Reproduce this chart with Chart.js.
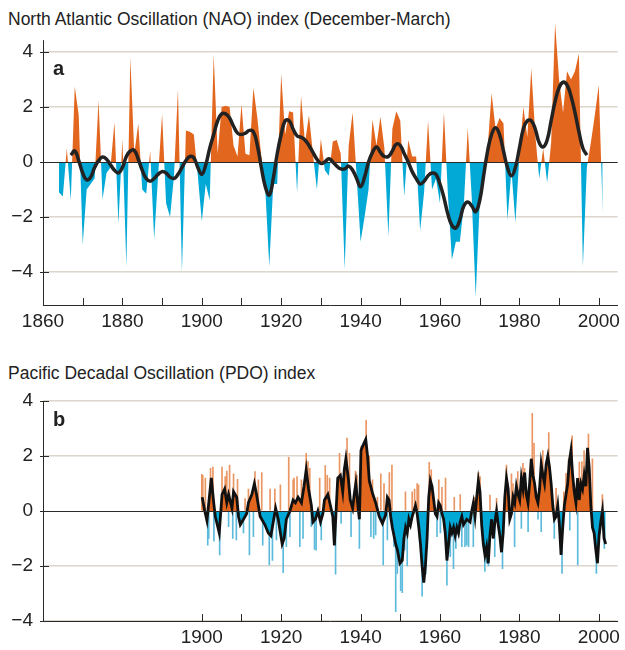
<!DOCTYPE html>
<html>
<head>
<meta charset="utf-8">
<script src="https://cdn.jsdelivr.net/npm/chart.js@4.4.1/dist/chart.umd.min.js"></script>
<style>
  body { margin: 0; background: #fff; width: 625px; height: 650px; position: relative; overflow: hidden;
         font-family: "Liberation Sans", Arial, sans-serif; color: #222; }
  .title { position: absolute; left: 8px; font-size: 17.5px; line-height: 1; white-space: nowrap; }
  .tag { position: absolute; font-size: 20px; font-weight: bold; line-height: 1; }
  canvas { position: absolute; left: 0; }
</style>
</head>
<body>
<div class="title" style="top:11px">North Atlantic Oscillation (NAO) index (December-March)</div>
<div class="title" style="top:365px">Pacific Decadal Oscillation (PDO) index</div>
<canvas id="nao" width="625" height="340" style="top:0"></canvas>
<canvas id="pdo" width="625" height="310" style="top:340px"></canvas>
<div class="tag" style="left:53px;top:58px">a</div>
<div class="tag" style="left:53px;top:409px">b</div>
<script>
// NAO winter index, one value per year from 1864
const naoFirstYear = 1864;
const naoValues = [
  -1.1, -1.25, 0.5, -1.4, 2.75, 1.7, -3.0, -1.0, -0.8, -0.6,
  2.25, -1.35, -0.4, -0.2, 1.45, -2.25, 0.85, -3.8, 3.8, 0.3,
  1.4, -1.0, -1.15, 0.4, -2.8, -0.5, 1.75, -1.5, -2.0, -0.5,
  2.65, -4.0, 1.15, 1.1, 1.0, -0.5, -2.15, -0.8, -1.4, 3.9,
  0.3, 2.0, 2.05, 2.0, 0.6, 0.2, 2.1, 0.3, 0.25, 2.7,
  1.6, 0.2, -1.0, -3.8, -0.8, -0.8, 3.2, 1.0, 1.85, 1.8,
  -1.1, 2.4, 0.7, 1.7, 0.3, -1.0, 0.85, -0.3, -0.5, 0.75,
  0.8, 0.3, -3.9, 0.6, 1.8, -0.5, -2.9, -2.0, -1.0, 1.55,
  0.6, 1.65, 0.5, -2.7, 1.2, 1.85, 1.5, -1.25, 0.8, 0.2,
  0.2, -2.5, -1.1, 1.5, -1.0, -0.6, -1.5, 1.8, -1.2, -3.55,
  -2.9, -2.9, -1.6, 1.25, -1.3, -4.9, -1.5, -0.8, 0.5, 2.5,
  1.2, 1.6, 1.4, -2.1, -0.3, -2.2, 0.2, 2.0, 0.9, 3.4,
  1.0, -0.6, 0.5, -0.75, 0.7, 5.05, 3.0, 1.8, 3.3, 3.0,
  3.3, 3.95, -3.8, -0.2, 0.7, 1.7, 2.8, -1.9
];
// low-pass curve, one value per year from 1867
const naoSmoothFirstYear = 1867;
const naoSmooth = [
  0.25, 0.4, 0.05, -0.4, -0.65, -0.55, -0.2, 0.05, 0.18, 0.1,
  -0.1, -0.3, -0.4, -0.2, 0.2, 0.4, 0.42, 0.1, -0.3, -0.6,
  -0.7, -0.6, -0.45, -0.35, -0.4, -0.55, -0.6, -0.45, -0.2, 0.05,
  0.2, 0.15, -0.2, -0.45, -0.1, 0.5, 1.0, 1.5, 1.75, 1.75,
  1.6, 1.3, 1.05, 1.0, 1.05, 1.15, 1.1, 0.6, -0.2, -0.9,
  -1.2, -0.6, 0.3, 1.0, 1.5, 1.5, 1.2, 0.95, 0.9, 0.8,
  0.6, 0.35, 0.1, -0.05, 0.0, 0.12, 0.0, -0.15, -0.25, -0.25,
  -0.15, -0.3, -0.6, -0.9, -0.55, 0.0, 0.35, 0.55, 0.35, 0.2,
  0.2, 0.4, 0.65, 0.6, 0.3, 0.0, -0.35, -0.6, -0.8, -0.7,
  -0.5, -0.4, -0.45, -0.8, -1.3, -1.9, -2.3, -2.4, -2.1, -1.6,
  -1.45, -1.6, -1.8, -1.4, -0.5, 0.4, 1.0, 1.25, 1.0, 0.4,
  -0.2, -0.5, -0.2, 0.5, 1.2, 1.5, 1.5, 1.2, 0.7, 0.55,
  0.8, 1.5, 2.2, 2.7, 2.9, 2.8, 2.4, 1.8, 1.1, 0.5,
  0.25
];

// PDO index: black curve
const pdoYears = [
  1900.1, 1900.75, 1901.3, 1902.4, 1903.0, 1903.4, 1904.4, 1905.1, 1905.75, 1906.3,
  1906.75, 1907.6, 1908.0, 1908.8, 1909.25, 1909.7, 1910.5, 1911.3, 1911.75, 1912.6,
  1913.25, 1913.8, 1914.25, 1914.7, 1915.9, 1916.75, 1917.4, 1918.0, 1918.6, 1919.25,
  1920.25, 1920.75, 1921.3, 1922.2, 1923.0, 1923.6, 1924.25, 1925.1, 1925.75, 1926.3,
  1926.9, 1927.6, 1928.0, 1928.6, 1929.25, 1929.9, 1930.5, 1930.9, 1931.75, 1932.4,
  1933.0, 1933.4, 1933.9, 1934.25, 1934.9, 1935.5, 1935.9, 1936.3, 1936.9, 1937.4,
  1938.0, 1938.4, 1938.8, 1939.25, 1939.7, 1940.1, 1940.5, 1941.3, 1941.75, 1942.2,
  1943.0, 1943.8, 1944.7, 1945.5, 1946.3, 1946.75, 1947.17, 1947.58, 1948.0, 1948.42,
  1948.83, 1949.25, 1949.92, 1950.5, 1950.92, 1951.33, 1951.75, 1952.17, 1952.58, 1953.0,
  1953.42, 1953.83, 1954.25, 1954.67, 1955.08, 1955.5, 1955.92, 1956.33, 1956.75, 1957.17,
  1957.58, 1958.0, 1958.42, 1958.83, 1959.25, 1959.67, 1960.08, 1960.5, 1960.92, 1961.33,
  1961.75, 1962.17, 1962.58, 1963.0, 1963.42, 1963.83, 1964.25, 1964.67, 1965.08, 1965.5,
  1965.92, 1966.75, 1967.58, 1968.0, 1968.42, 1968.83, 1969.25, 1969.67, 1970.08, 1970.5,
  1970.92, 1971.33, 1971.75, 1972.17, 1972.58, 1973.0, 1973.42, 1973.83, 1974.25, 1974.67,
  1975.08, 1975.5, 1975.92, 1976.33, 1976.75, 1977.17, 1977.58, 1978.0, 1978.42, 1978.83,
  1979.25, 1979.67, 1980.08, 1980.5, 1980.92, 1981.33, 1981.75, 1982.17, 1982.58, 1983.0,
  1983.42, 1983.83, 1984.25, 1984.67, 1985.08, 1985.5, 1985.92, 1986.33, 1986.75, 1987.17,
  1987.58, 1988.0, 1988.42, 1988.83, 1989.25, 1989.67, 1990.08, 1990.5, 1990.92, 1991.33,
  1991.75, 1992.17, 1992.58, 1993.0, 1993.42, 1993.83, 1994.25, 1994.67, 1995.08, 1995.5,
  1995.92, 1996.33, 1996.75, 1997.17, 1997.58, 1998.0, 1998.42, 1998.83, 1999.25, 1999.67,
  2000.08, 2000.5, 2000.92, 2001.33, 2001.75
];
const pdoValues = [
  0.5, 0.0, -0.35, 1.2, 0.3, -0.2, -0.8, 0.6, 0.8, 0.3,
  0.6, 0.1, 0.7, 0.5, -0.2, -0.5, -0.3, -0.1, 0.3, 0.6,
  1.0, 0.6, 0.2, -0.2, -0.5, -0.8, -0.9, -0.4, 0.1, -0.3,
  -1.2, -1.0, -0.3, 0.0, 0.4, 0.3, 0.5, 0.3, 0.9, 1.5,
  0.8, 0.2, -0.4, -0.3, 0.0, -0.4, -0.1, 0.4, 0.6, 0.2,
  -0.2, -1.25, 0.2, 1.2, 1.3, 0.7, 1.5, 1.9, 1.2, 0.4,
  0.1, 0.6, 1.0, 0.3, -0.3, 2.2, 2.35, 2.6, 2.0, 1.1,
  0.65, 0.3, -0.2, -0.45, -0.15, 0.5, 0.4, -0.2, -0.6, -0.9,
  -1.2, -1.4, -1.9, -1.8, -1.0, -0.6, -0.8, -0.3, -0.5, -0.2,
  0.0, 0.2, -0.1, -0.6, -1.2, -2.0, -2.6, -2.0, -1.0, 0.5,
  1.1, 0.9, 0.4, -0.1, -0.2, 0.3, 0.2, -0.1, -0.3, -0.8,
  -1.8, -1.2, -0.6, -0.8, -0.6, -0.9, -0.6, -0.8, -0.4, -0.2,
  -0.5, -0.3, -0.4, 0.0, 0.3, -0.2, 0.5, 1.1, 0.7, -0.5,
  -1.2, -1.6, -1.3, -1.9, -0.9, -0.3, -1.0, -0.4, 0.0, -0.5,
  -0.9, -1.5, -0.8, 0.5, 1.2, 0.8, -0.3, -0.1, 0.5, 0.3,
  0.9, 0.6, 0.4, 1.2, 0.8, 1.4, 0.6, 0.3, 1.0, 1.9,
  1.3, 1.0, 0.5, 0.3, 0.8, 1.7, 1.3, 1.0, 1.7, 2.0,
  1.6, 1.0, 0.2, -0.3, -0.2, 0.2, -0.5, -1.6, -0.6, 0.2,
  0.6, 1.0, 1.8, 2.2, 1.3, 0.7, 0.3, 1.2, 0.4, 1.0,
  0.8, 1.3, 0.9, 2.3, 1.6, 0.2, -0.6, -0.8, -1.4, -1.9,
  -0.9, -0.4, 0.0, -1.0, -1.2
];
// single months that stick out beyond the curve
const pdoSpikeYears = [
  1900.0, 1900.25, 1900.9, 1901.5, 1901.75, 1902.2, 1902.8, 1903.05, 1904.5, 1905.1,
  1905.9, 1906.3, 1906.75, 1907.0, 1907.8, 1908.0, 1908.7, 1909.0, 1910.5, 1910.9,
  1911.75, 1912.0, 1913.0, 1913.4, 1914.25, 1915.1, 1915.35, 1917.0, 1917.2, 1917.8,
  1918.4, 1918.8, 1919.8, 1920.5, 1921.3, 1921.9, 1922.2, 1923.0, 1923.25, 1924.0,
  1924.7, 1925.1, 1925.5, 1926.3, 1926.75, 1927.2, 1927.6, 1928.4, 1928.8, 1929.7,
  1930.1, 1931.1, 1931.6, 1932.2, 1933.7, 1934.7, 1935.1, 1936.6, 1937.2, 1937.6,
  1938.7, 1939.1, 1939.7, 1940.1, 1940.75, 1941.4, 1942.2, 1942.6, 1943.0, 1943.3,
  1943.8, 1944.25, 1945.1, 1945.7, 1945.9, 1946.75, 1947.25, 1947.9, 1948.4, 1948.85,
  1949.25, 1950.1, 1950.5, 1951.1, 1951.3, 1951.75, 1953.0, 1953.6, 1954.25, 1954.6,
  1955.5, 1955.9, 1956.4, 1956.8, 1957.3, 1957.8, 1959.25, 1959.7, 1960.1, 1960.5,
  1961.4, 1961.75, 1962.6, 1963.4, 1963.6, 1964.0, 1965.1, 1965.5, 1966.3, 1966.75,
  1967.2, 1968.4, 1968.7, 1969.7, 1970.1, 1971.3, 1971.75, 1972.2, 1972.6, 1973.8,
  1974.25, 1975.75, 1976.75, 1978.0, 1978.4, 1978.8, 1979.6, 1980.5, 1980.9, 1981.3,
  1982.2, 1983.25, 1983.7, 1984.7, 1985.5, 1985.9, 1987.4, 1988.8, 1989.25, 1990.75,
  1991.2, 1991.75, 1992.4, 1992.7, 1993.3, 1994.7, 1995.1, 1995.75, 1996.3, 1997.4,
  1998.4, 1999.4, 2000.9, 2001.4
];
const pdoSpikeValues = [
  1.33, 1.3, 1.2, -1.24, -1.0, 1.55, 1.6, -1.1, -1.6, 1.6,
  1.25, 1.45, -0.57, 1.67, -1.0, 1.35, -1.05, 1.15, -0.8, 0.45,
  0.8, -1.6, -0.93, 1.43, 1.13, 1.4, -1.24, -1.96, 0.8, -1.8,
  0.8, -1.05, 0.95, -2.24, -1.3, 1.95, -0.93, 1.13, 1.2, 1.25,
  -1.3, 1.13, -1.0, 2.1, 1.8, 1.55, -0.57, -1.4, -1.42, 1.2,
  -1.05, 1.65, 1.3, 1.2, -2.3, 2.1, -0.45, 2.65, 2.1, -0.93,
  1.45, 1.3, -1.36, 2.34, 2.4, 3.3, 2.0, -0.93, 1.13, -1.0,
  -0.87, 0.5, 1.35, -1.96, 1.0, -1.05, 1.4, 1.67, -1.3, -3.66,
  -2.27, -2.9, -2.97, -1.42, 0.7, -2.0, 0.7, 0.8, 1.0, 0.95,
  -3.1, -2.3, -2.3, -1.36, 1.77, 1.5, -0.93, 1.13, -0.8, 0.86,
  1.2, -2.7, -1.66, -2.1, 0.5, -1.36, 0.6, -1.3, -1.3, -1.24,
  -1.3, -1.3, 0.5, 1.4, 1.25, -2.2, -1.9, -2.0, 0.58, -1.66,
  0.46, -2.1, 1.67, 1.35, 1.0, -1.3, 1.43, -0.63, 1.73, 1.55,
  -0.75, 3.55, 2.46, -0.3, -0.75, 2.2, 2.85, -1.0, 0.82, -2.27,
  0.7, 1.37, 1.9, -0.7, 2.73, -1.96, 1.78, 1.8, 2.2, 2.8,
  1.9, -2.27, 0.6, -1.36
];

const ORANGE = '#e2661e';
const BLUE = '#02a8d6';
const GRID = '#dcd6cc';
const INK = '#2a2a2a';

Chart.defaults.font.family = '"Liberation Sans", Arial, sans-serif';
Chart.defaults.font.size = 19;
Chart.defaults.color = '#222';
Chart.defaults.animation = false;

// axis line, short ticks and the zero line, all placed through the chart's scales
const axisDecor = {
  id: 'axisDecor',
  afterDatasetsDraw(chart, args, opts) {
    const { ctx, chartArea: a, scales: { x, y } } = chart;
    ctx.save();
    ctx.strokeStyle = INK;
    ctx.lineWidth = 1;
    ctx.beginPath();
    const y0 = Math.round(y.getPixelForValue(0)) + 0.5;
    ctx.moveTo(a.left, y0); ctx.lineTo(a.right, y0);
    ctx.moveTo(a.left + 0.5, y.getPixelForValue(opts.axisTop));
    ctx.lineTo(a.left + 0.5, a.bottom);
    y.ticks.forEach(t => {
      const py = Math.round(y.getPixelForValue(t.value)) + 0.5;
      ctx.moveTo(a.left - 3, py); ctx.lineTo(a.left + 6, py);
    });
    x.ticks.forEach(t => {
      if (t.value < opts.tickFrom) return;
      const px = Math.round(x.getPixelForValue(t.value)) + 0.5;
      ctx.moveTo(px, a.bottom); ctx.lineTo(px, a.bottom - 7);
    });
    ctx.stroke();
    ctx.restore();
  }
};

function yAxis(min, max) {
  return {
    min, max,
    ticks: { stepSize: 2, includeBounds: false, padding: 10,
      callback: v => v < 0 ? '\u2212' + (-v) : String(v) },
    grid: { color: c => c.tick.value === 0 ? 'rgba(0,0,0,0)' : GRID, lineWidth: 1.6, drawTicks: false },
    border: { display: false },
    afterFit: s => { s.width = 43; }
  };
}
function xAxis(labelFrom, height) {
  return {
    type: 'linear', min: 1860, max: 2004.75, offset: false,
    ticks: { stepSize: 10, includeBounds: false, autoSkip: false, maxRotation: 0, padding: 5,
      callback: v => (v >= labelFrom && v % 20 === 0) ? String(v) : '' },
    grid: { display: false, drawTicks: false },
    border: { display: true, color: INK, width: 1 },
    afterFit: s => { s.height = height; }
  };
}

new Chart(document.getElementById('nao'), {
  type: 'line',
  data: {
    datasets: [
      { data: naoSmooth.map((v, i) => ({ x: naoSmoothFirstYear + i, y: v })),
        borderColor: '#222', borderWidth: 3.5, tension: 0.45, pointRadius: 0, fill: false, order: 1 },
      { data: naoValues.map((v, i) => ({ x: naoFirstYear + i, y: v })),
        borderColor: 'rgba(0,0,0,0)', borderWidth: 1, pointRadius: 0, tension: 0,
        fill: { target: 'origin', above: ORANGE, below: BLUE }, order: 2 }
    ]
  },
  options: {
    responsive: false,
    layout: { padding: { top: 21.75, right: 3, left: 0, bottom: 0 } },
    plugins: { legend: { display: false }, tooltip: { enabled: false },
      axisDecor: { axisTop: 4.43, tickFrom: 1861 } },
    scales: { x: xAxis(1860, 35), y: yAxis(-5.2, 5.1) }
  },
  plugins: [axisDecor]
});

new Chart(document.getElementById('pdo'), {
  type: 'line',
  data: {
    datasets: [
      { data: pdoYears.map((t, i) => ({ x: t, y: pdoValues[i] })),
        borderColor: '#111', borderWidth: 2.8, pointRadius: 0, tension: 0,
        fill: { target: 'origin', above: ORANGE, below: BLUE }, order: 1 },
      { type: 'bar', data: pdoSpikeYears.map((t, i) => ({ x: t, y: pdoSpikeValues[i] })),
        barThickness: 1, borderWidth: 0,
        backgroundColor: c => (c.raw && c.raw.y >= 0) ? '#ea9663' : '#5cbadb', order: 2 }
    ]
  },
  options: {
    responsive: false,
    layout: { padding: { top: 61, right: 3, left: 0, bottom: 0 } },
    plugins: { legend: { display: false }, tooltip: { enabled: false },
      axisDecor: { axisTop: 4, tickFrom: 1899 } },
    scales: { x: xAxis(1900, 29), y: yAxis(-4, 4) }
  },
  plugins: [axisDecor]
});
</script>
</body>
</html>
